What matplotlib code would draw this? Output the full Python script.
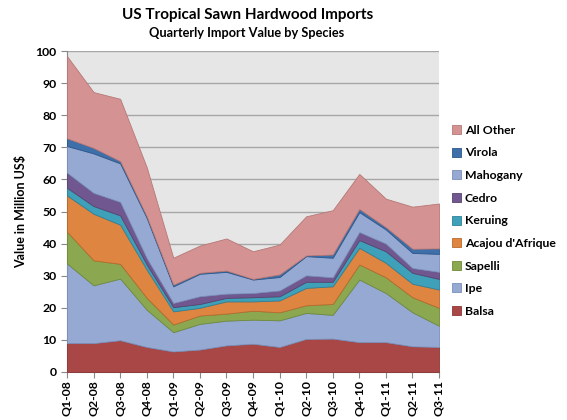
import matplotlib
matplotlib.use("Agg")
import matplotlib.pyplot as plt
import numpy as np

plt.rcParams['font.family'] = ['Lato', 'DejaVu Sans']
plt.rcParams['font.weight'] = 'bold'

quarters = ["Q1-08", "Q2-08", "Q3-08", "Q4-08", "Q1-09", "Q2-09", "Q3-09", "Q4-09",
            "Q1-10", "Q2-10", "Q3-10", "Q4-10", "Q1-11", "Q2-11", "Q3-11"]

balsa = [9.0, 9.0, 9.9, 7.8, 6.4, 7.0, 8.3, 8.8, 7.8, 10.3, 10.4, 9.3, 9.3, 8.0, 7.8]
ipe = [24.8, 18.0, 19.2, 11.6, 6.0, 8.0, 7.7, 7.5, 8.3, 8.1, 7.4, 19.5, 15.3, 10.6, 6.6]
sapelli = [9.9, 7.8, 4.6, 3.7, 2.4, 2.6, 2.2, 2.8, 2.5, 2.4, 3.4, 4.7, 4.9, 4.7, 5.6]
acajou = [11.3, 14.5, 12.2, 8.8, 4.1, 2.4, 3.8, 2.9, 3.7, 5.4, 5.5, 5.2, 4.5, 4.2, 5.7]
keruing = [2.4, 2.4, 2.9, 1.6, 1.3, 1.2, 1.1, 1.3, 1.3, 1.9, 1.4, 2.4, 3.6, 3.4, 3.3]
cedro = [4.7, 4.1, 4.2, 2.0, 1.3, 2.4, 1.3, 1.3, 1.8, 2.0, 1.4, 2.5, 2.4, 1.5, 2.2]
mahogany = [8.3, 12.3, 12.0, 12.5, 5.2, 7.0, 6.8, 4.2, 4.2, 6.0, 6.1, 6.2, 4.4, 4.7, 5.6]
virola = [2.4, 1.7, 0.7, 0.5, 0.5, 0.3, 0.4, 0.2, 0.8, 0.2, 1.0, 1.0, 0.7, 1.3, 1.7]
all_other = [25.6, 17.4, 19.4, 15.3, 8.4, 8.5, 10.0, 8.6, 9.3, 12.2, 13.8, 10.9, 8.9, 13.1, 14.0]

species = ["Balsa", "Ipe", "Sapelli", "Acajou d'Afrique", "Keruing", "Cedro",
           "Mahogany", "Virola", "All Other"]
series = [balsa, ipe, sapelli, acajou, keruing, cedro, mahogany, virola, all_other]
colors = ["#A84745", "#95A9D2", "#8BA74F", "#DE8641", "#3FA0B9", "#71578F",
          "#95A9D2", "#3D6FAA", "#D49392"]
edges = ["#8C3735", "#7A8FBA", "#6F8A3A", "#B86A2E", "#2F8199", "#584370",
         "#7A8FBA", "#2C5688", "#B57877"]

fig = plt.figure(figsize=(5.67, 4.2), dpi=100)
ax = fig.add_axes([67 / 567, 48 / 420, 372 / 567, 321 / 420])
ax.set_facecolor("#E6E6E6")

x = np.arange(len(quarters))
polys = ax.stackplot(x, *series, colors=colors, labels=species, zorder=3)
for p, ec in zip(polys, edges):
    p.set_edgecolor(ec)
    p.set_linewidth(0.6)

ax.set_xlim(0, len(quarters) - 1)
ax.set_ylim(0, 100)
ax.set_yticks(range(0, 101, 10))
ax.yaxis.grid(True, color="#A6A6A6", linewidth=1.0, zorder=1)
ax.set_axisbelow(True)
ax.set_xticks(x)
ax.set_xticklabels(quarters, rotation=90, fontsize=8.8, fontweight="bold")
for lab in ax.get_yticklabels():
    lab.set_fontsize(8.8)
    lab.set_fontweight("bold")
ax.tick_params(axis="both", direction="out", length=4, color="#888888", width=0.8)
ax.tick_params(axis="x", pad=2)
for s in ["top", "right"]:
    ax.spines[s].set_visible(False)
for s in ["left", "bottom"]:
    ax.spines[s].set_color("#888888")
    ax.spines[s].set_linewidth(0.8)

ax.set_ylabel("Value in Million US$", fontsize=9, fontweight="bold", labelpad=6)

fig.text(248 / 567, 1 - 15 / 420, "US Tropical Sawn Hardwood Imports",
         ha="center", va="center", fontsize=11, fontweight="bold")
fig.text(247 / 567, 1 - 33 / 420, "Quarterly Import Value by Species",
         ha="center", va="center", fontsize=9.2, fontweight="bold")

handles, labels = ax.get_legend_handles_labels()
leg = fig.legend(handles[::-1], labels[::-1], loc="upper left",
                 bbox_to_anchor=(447 / 567, 1 - 120 / 420), frameon=False,
                 fontsize=8.8, handlelength=0.75, handleheight=0.75,
                 handletextpad=0.3, labelspacing=0.95, borderaxespad=0)
for t in leg.get_texts():
    t.set_fontweight("bold")

fig.savefig("out.png", dpi=100)
